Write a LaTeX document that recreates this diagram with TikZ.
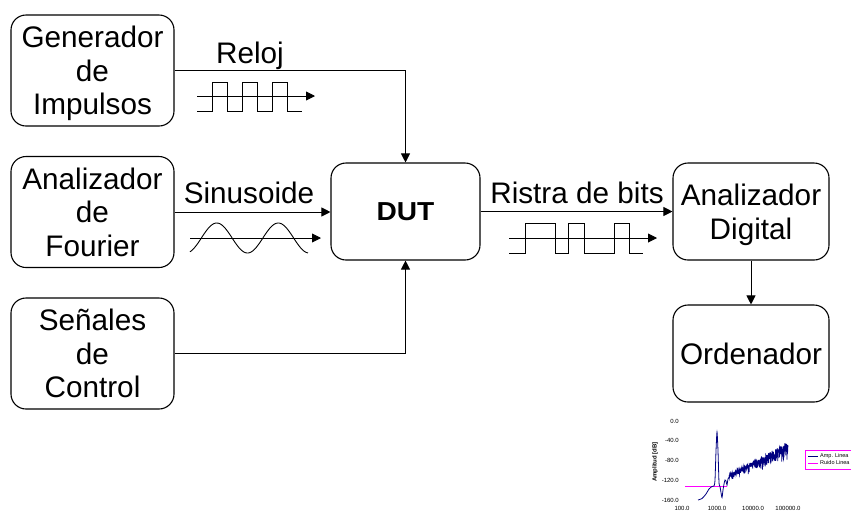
\documentclass[tikz,border=0pt]{standalone}
\usepackage{fontspec}
\setmainfont{Liberation Sans}
\usetikzlibrary{arrows.meta}
\definecolor{navyb}{RGB}{0,0,128}
\definecolor{magb}{RGB}{255,0,255}
\begin{document}
\begin{tikzpicture}[x=1pt,y=-1pt,
  blk/.style={draw, line width=1.1pt, rounded corners=15pt, align=center, inner sep=0pt,
    text depth=0pt, font=\fontsize{29.7}{33.5}\selectfont},
  lbl/.style={anchor=base, inner sep=0pt, font=\fontsize{29.7}{32.5}\selectfont},
  tip/.style={-{Triangle[length=9pt,width=9pt]}},
  conn/.style={line width=1pt, tip},
  wave/.style={line width=0.9pt},
  tick/.style={inner sep=0pt, font=\fontsize{6}{7}\selectfont},
  leg/.style={inner sep=0pt, anchor=west, font=\fontsize{5.5}{6}\selectfont}]
\useasboundingbox (0,0) rectangle (851,515);

% blocks
\node[blk, minimum width=163pt, minimum height=111pt] (g)   at (92.5,70.5) {Generador\\de\\Impulsos};
\node[blk, minimum width=163pt, minimum height=111pt] (af)  at (92.5,212) {Analizador\\de\\Fourier};
\node[blk, minimum width=163pt, minimum height=111pt] (sc)  at (92.5,353.5) {Señales\\de\\Control};
\node[blk, minimum width=149pt, minimum height=97pt, font=\bfseries\fontsize{26}{30}\selectfont] (dut) at (405.5,211.5) {\scalebox{1.08}[1]{DUT}};
\node[blk, minimum width=156pt, minimum height=97pt] (ad)  at (751,211.5) {Analizador\\Digital};
\node[blk, minimum width=156pt, minimum height=97pt] (ord) at (751,353.5) {Ordenador};

% connectors
\draw[conn] (g.east) -| (dut.north);
\draw[conn] (af.east) -- (af.east -| dut.west);
\draw[conn] (sc.east) -| (dut.south);
\draw[conn] (dut.east) -- (dut.east -| ad.west);
\draw[conn] (ad.south) -- (ord.north);

% labels
\node[lbl] (lreloj) at (250,63) {Reloj};
\node[lbl] (lsin) at (249,203) {Sinusoide};
\node[lbl] (lbits) at (577,203) {Ristra de bits};

% clock waveform
\coordinate (ca0) at (197,96); \coordinate (ca1) at (315,96);
\draw[wave, tip] (ca0) -- (ca1);
\draw[wave] (197,111) -- (212,111) -- (212,82) -- (227,82) -- (227,111) -- (242,111) -- (242,82)
  -- (257,82) -- (257,111) -- (272,111) -- (272,82) -- (287,82) -- (287,111) -- (302,111);

% sine waveform
\coordinate (sa0) at (190,238); \coordinate (sa1) at (321,238);
\draw[wave, tip] (sa0) -- (sa1);
\draw[wave] plot[domain=190:308, samples=90, smooth] (\x, {238+15*cos(5.8537*(\x-186))});

% bit stream waveform
\coordinate (ba0) at (509,238); \coordinate (ba1) at (657,238);
\draw[wave, tip] (ba0) -- (ba1);
\draw[wave] (509,253) -- (525,253) -- (525,223) -- (555,223) -- (555,253) -- (568,253) -- (568,223)
  -- (584,223) -- (584,253) -- (614,253) -- (614,223) -- (629,223) -- (629,253) -- (643,253);

% small chart
\foreach \v/\yy in {0.0/421,-40.0/440.5,-80.0/460,-120.0/480,-160.0/500}
  \node[tick, anchor=east] at (679,\yy) {\v};
\foreach \v/\xx in {100.0/682,1000.0/717,10000.0/753,100000.0/788}
  \node[tick] at (\xx,508) {\v};
\node[tick, rotate=90, font=\bfseries\fontsize{6}{7}\selectfont] (ytitle) at (655,462) {Amplitud [dB]};

\draw[magb, line width=0.8pt] (685,486) -- (727,486);
\draw[navyb, line width=0.8pt] plot[smooth, tension=0.4] coordinates {
  (698,500) (702,498.5) (706,494) (709,489) (712,486.5) (714,486) (715,480) (716,451) (717,432)
  (718,451) (719,482.5) (720,486.5) (721,492.5) (722,497.5) (723,490) (724,484) (725,480)
  (726,481) (727,485) (728,479) (730,476)};
\pgfmathsetseed{11}
\draw[navyb, line width=0.75pt] plot[domain=729:788, samples=360]
  (\x, {474 - 33*(\x-729)/59 + (4+13*(\x-729)/59)*rnd*rnd + (2+5*(\x-729)/59)*rnd});

\begin{scope}
  \clip (0,0) rectangle (851,515);
  \draw[magb, line width=0.7pt] (805,450) rectangle (870,469);
  \draw[navyb, line width=0.8pt] (808,456) -- (818,456);
  \node[leg] (l1) at (820,456) {Amp. Linea};
  \draw[magb, line width=0.8pt] (808,463) -- (818,463);
  \node[leg] (l2) at (820,463) {Ruido Linea};
\end{scope}
\end{tikzpicture}
\end{document}
